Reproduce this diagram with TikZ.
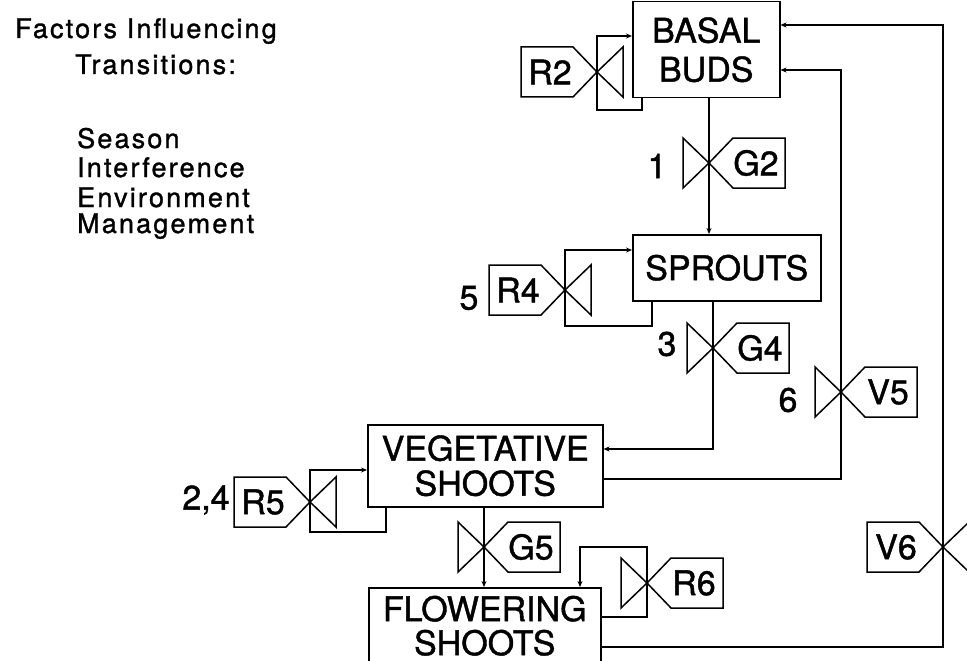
\documentclass[tikz,border=0pt]{standalone}
\usepackage{fontspec}
\setmainfont{TeX Gyre Heros}[FakeBold=1.2]
\newfontfamily\sidefont{TeX Gyre Heros}[LetterSpace=8,FakeBold=1.2]
\usetikzlibrary{arrows.meta}
\begin{document}
\begin{tikzpicture}[x=1pt,y=-1pt,
  box/.style={draw, line width=1.5pt, inner sep=0pt, align=center, anchor=north west},
  conn/.style={line width=2pt},
  arr/.style={conn, -{Stealth[length=6pt,width=5pt]}},
  valve/.style={line width=1.5pt, line join=miter},
  lbl/.style={font=\fontsize{34}{38}\selectfont, inner sep=0pt},
  side/.style={font=\sidefont\fontsize{27}{30}\selectfont, anchor=base west, inner sep=0pt},
  pics/valveright/.style={code={
    \draw[valve] (0,0) -- (-26,-25) -- (-26,25) -- cycle;
    \draw[valve] (0,0) -- (24,-25) -- (76,-25) -- (76,25) -- (24,25) -- cycle;
    \node[lbl] (-lab) at (47,0) {#1};
  }},
  pics/valveleft/.style={code={
    \draw[valve] (0,0) -- (26,-25) -- (26,25) -- cycle;
    \draw[valve] (0,0) -- (-24,-25) -- (-76,-25) -- (-76,25) -- (-24,25) -- cycle;
    \node[lbl] (-lab) at (-47,0) {#1};
  }}
]
\useasboundingbox (0,0) rectangle (967,661);

% boxes
\node[box, minimum width=147pt, minimum height=96pt, font=\fontsize{34}{39}\selectfont] (basal) at (632,1) {BASAL\\BUDS};
\node[box, minimum width=188pt, minimum height=66pt, font=\fontsize{34}{35}\selectfont] (sprouts) at (632,234) {SPROUTS};
\node[box, minimum width=235pt, minimum height=82pt, font=\fontsize{34}{35}\selectfont] (veg) at (367,424) {VEGETATIVE\\SHOOTS};
\node[box, minimum width=232pt, minimum height=76pt, font=\fontsize{34}{34}\selectfont] (flow) at (368,587) {FLOWERING\\SHOOTS};

% valve centres
\coordinate (g2) at (709,163);
\coordinate (r2) at (597,72);
\coordinate (g4) at (713,348);
\coordinate (r4) at (565,290);
\coordinate (v5) at (841,392);
\coordinate (r5) at (310,502);
\coordinate (g5) at (484,547);
\coordinate (r6) at (647,583);
\coordinate (v6) at (943,547);

% connectors
\draw[arr] (basal.south -| g2) -- (sprouts.north -| g2);
\draw[arr] (basal.south -| 642,0) -- (642,110) -| (r2) |- (basal.west |- 0,36);
\draw[arr] (sprouts.south -| g4) |- (veg.east |- 0,449);
\draw[arr] (sprouts.south -| 652,0) -- (652,326) -| (r4) |- (sprouts.west |- 0,250);
\draw[arr] (veg.east |- 0,479) -| (v5) |- (basal.east |- 0,70);
\draw[arr] (veg.south -| 386,0) -- (386,532) -| (r5) |- (veg.west |- 0,470);
\draw[arr] (veg.south -| g5) -- (flow.north -| g5);
\draw[arr] (flow.east |- 0,617) -| (r6) |- (580,547) -- (flow.north -| 580,0);
\draw[arr] (flow.east |- 0,647) -| (v6) |- (basal.east |- 0,25);

% valves
\pic (pg2) at (g2) {valveright=G2};
\pic (pr2) at (r2) {valveleft=R2};
\pic (pg4) at (g4) {valveright=G4};
\pic (pr4) at (r4) {valveleft=R4};
\pic (pv5) at (v5) {valveright=V5};
\pic (pr5) at (r5) {valveleft=R5};
\pic (pg5) at (g5) {valveright=G5};
\pic (pr6) at (r6) {valveright=R6};
\pic (pv6) at (v6) {valveleft=V6};

% numbers
\node[lbl] (n1) at (657,166) {1};
\node[lbl] (n3) at (667,344) {3};
\node[lbl] (n5) at (469,298) {5};
\node[lbl] (n6) at (788,400) {6};
\node[lbl] (n24) at (206,500) {2,4};

% side text
\node[side] (t1) at (15,38) {Factors Influencing};
\node[side] (t2) at (75,74) {Transitions:};
\node[side] (t3) at (77,148) {Season};
\node[side] (t4) at (77,177) {Interference};
\node[side] (t5) at (77,207) {Environment};
\node[side] (t6) at (77,233) {Management};
\end{tikzpicture}
\end{document}
